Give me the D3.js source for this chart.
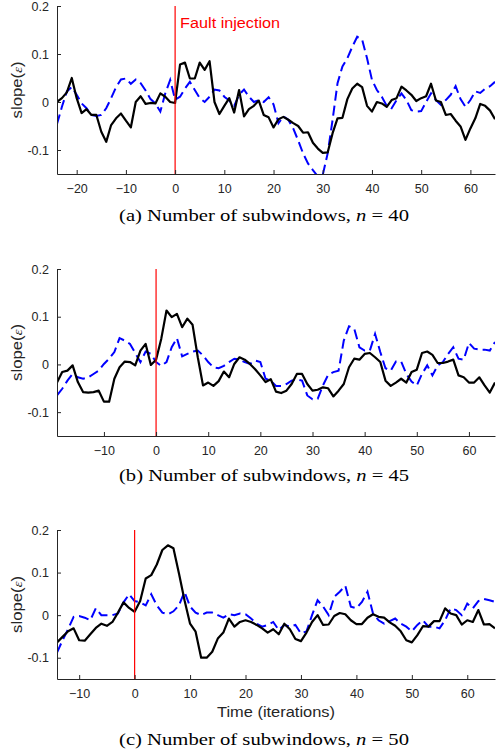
<!DOCTYPE html>
<html>
<head>
<meta charset="utf-8">
<script src="https://cdn.jsdelivr.net/npm/d3@7"></script>
<style>
  body { margin: 0; background: #fff; }
  svg { display: block; }
  .tick text { font-family: "Liberation Sans", Arial, sans-serif; font-size: 12.5px; fill: #262626; }
  .axis path, .axis line { stroke: #262626; stroke-width: 1; }
</style>
</head>
<body>
<div id="chart"></div>
<script>
// time steps of each panel
var stepsA = d3.range(-24, 66);
var stepsB = d3.range(-19, 66);
var stepsC = d3.range(-14, 66);

// (a) n = 40
var blackA = [0.0, 0.008, 0.02, 0.05, 0.008, -0.023, -0.015, -0.027, -0.027, -0.062, -0.083, -0.048, -0.034, -0.024, -0.039, -0.053, 0.0, 0.012, -0.004, -0.002, -0.003, 0.018, 0.011, 0.0, -0.002,
  0.078, 0.082, 0.049, 0.049, 0.082, 0.067, 0.085, 0.0, -0.025, -0.008, 0.008, -0.022, 0.025, -0.03, -0.015, -0.008, 0.003, -0.027, -0.032, -0.053, -0.036,
  -0.031, -0.037, -0.044, -0.05, -0.064, -0.063, -0.085, -0.097, -0.106, -0.105, -0.065, -0.034, -0.033, 0.006, 0.028, 0.038, 0.031, -0.008, -0.02, 0.0,
  -0.003, -0.01, 0.004, 0.008, 0.032, 0.024, 0.015, 0.002, 0.008, 0.012, 0.038, 0.003, 0.0, -0.027, -0.025, -0.039, -0.051, -0.079, -0.055, -0.034, -0.004, -0.008, -0.018, -0.036];
var blueA = [-0.046, -0.01, 0.022, 0.031, 0.015, -0.003, -0.013, -0.027, -0.029, -0.027, -0.013, 0.008, 0.031, 0.047, 0.049, 0.038, 0.047, 0.039, 0.024, 0.006, -0.003, -0.02, 0.018, 0.046, 0.005,
  0.011, 0.028, 0.042, 0.025, 0.008, 0.0, 0.011, 0.026, 0.024, 0.011, 0.003, -0.008, 0.015, 0.026, 0.011, 0.0, 0.004,
  0.0, 0.01, -0.005, -0.044, -0.03, -0.037, -0.055, -0.08, -0.107, -0.128, -0.142, -0.155, -0.152, -0.107, -0.037, 0.039, 0.074, 0.091, 0.115, 0.136,
  0.13, 0.091, 0.046, 0.025, 0.011, -0.008, -0.013, 0.004, 0.018, 0.004, -0.017, -0.02, -0.019, 0.0, 0.018, 0.004, -0.006, 0.004, 0.015, 0.033,
  0.006, -0.01, 0.004, 0.022, 0.019, 0.028, 0.033, 0.042];

// (b) n = 45
var blackB = [-0.038, -0.016, -0.013, -0.002, -0.037, -0.058, -0.059, -0.058, -0.055, -0.078, -0.078, -0.03, -0.006, 0.006, 0.005, -0.002, 0.029, 0.043, -0.001, 0.01,
  0.054, 0.113, 0.099, 0.106, 0.078, 0.096, 0.083, 0.015, -0.044, -0.038, -0.045, -0.035, -0.015, -0.027, 0.001, 0.015, 0.01, 0.001, -0.01, -0.023, -0.037,
  -0.031, -0.057, -0.06, -0.055, -0.041, -0.02, -0.02, -0.041, -0.055, -0.053, -0.048, -0.05, -0.067, -0.055, -0.041, -0.006, 0.012, 0.01, 0.022, 0.024,
  0.015, 0.005, -0.034, -0.045, -0.038, -0.03, -0.038, -0.016, -0.011, 0.024, 0.027, 0.02, 0.003, 0.003, 0.006, 0.01, -0.023, -0.027, -0.038, -0.038,
  -0.027, -0.044, -0.059, -0.038];
var blueB = [-0.065, -0.051, -0.034, -0.02, -0.027, -0.03, -0.027, -0.02, -0.013, 0.001, 0.012, 0.026, 0.055, 0.05, 0.043, 0.024, 0.005, 0.027, 0.022, 0.005,
  -0.003, 0.005, 0.036, 0.055, 0.017, 0.022, 0.027, 0.029, 0.019, 0.005, -0.006, -0.008, -0.003, 0.005, 0.012, 0.01, 0.005, 0.001, 0.008, 0.005, -0.03,
  -0.034, -0.045, -0.045, -0.041, -0.034, -0.031, -0.034, -0.065, -0.073, -0.072, -0.044, -0.022, -0.016, -0.013, 0.05, 0.08, 0.075, 0.036, 0.029, 0.029,
  0.064, 0.026, -0.008, -0.013, 0.006, 0.006, -0.02, -0.036, -0.044, -0.02, -0.002, -0.023, -0.002, 0.005, 0.022, 0.036, 0.012, 0.01, 0.045, 0.033,
  0.031, 0.031, 0.029, 0.047];

// (c) n = 50
var blackC = [-0.064, -0.051, -0.038, -0.031, -0.059, -0.06, -0.045, -0.03, -0.02, -0.025, -0.016, 0.006, 0.03, 0.017, 0.008,
  0.033, 0.086, 0.094, 0.119, 0.153, 0.164, 0.157, 0.098, 0.035, -0.02, -0.039, -0.1, -0.1, -0.086, -0.055, -0.041, -0.008, -0.027, -0.016, -0.012, -0.016, -0.023, -0.031, -0.041,
  -0.033, -0.045, -0.02, -0.033, -0.056, -0.061, -0.041, -0.016, 0.0, -0.023, -0.022, -0.002, 0.005, 0.002, -0.012, -0.021, -0.021, -0.006, 0.002, -0.004,
  -0.006, -0.017, -0.025, -0.038, -0.059, -0.064, -0.047, -0.026, -0.027, -0.014, -0.014, 0.016, 0.004, 0.0, -0.022, -0.012, -0.016, 0.012, -0.022, -0.021, -0.031];
var blueC = [-0.088, -0.059, -0.033, -0.004, -0.002, -0.006, -0.012, 0.016, 0.0, 0.0, 0.0, 0.004, 0.03, 0.049, 0.033,
  0.03, 0.023, 0.049, 0.023, 0.006, 0.002, 0.009, 0.023, 0.055, 0.02, 0.006, 0.0, 0.006, 0.006, 0.0, -0.006, 0.002, 0.0, 0.004, 0.002, -0.008, -0.02, -0.027, -0.023,
  -0.016, -0.035, -0.023, -0.027, -0.023, -0.043, -0.038, 0.0, 0.035, 0.02, 0.0, 0.043, 0.055, 0.069, 0.02, 0.016, 0.031, 0.055, 0.004, -0.012,
  -0.02, -0.014, -0.008, -0.02, -0.027, -0.038, -0.023, -0.012, -0.027, -0.027, -0.031, -0.012, 0.016, 0.012, 0.0, 0.027, 0.016, 0.033, 0.038, 0.035, 0.031];

var yTicks = [-0.1, 0, 0.1, 0.2];
var xTicks = [-20, -10, 0, 10, 20, 30, 40, 50, 60];
var captionLetters = ['(a)', '(b)', '(c)'];
var nValues = [40, 45, 50];
var faultAt = 0;

var W = 496, H = 754;
var left = 57, right = 495;

var panels = [
  {steps: stepsA, black: blackA, blue: blueA, top: 6, bottom: 174, cap: 221},
  {steps: stepsB, black: blackB, blue: blueB, top: 269, bottom: 436, cap: 481},
  {steps: stepsC, black: blackC, blue: blueC, top: 530, bottom: 679, cap: 745}
];

var svg = d3.select('#chart').append('svg')
  .attr('width', W)
  .attr('height', H);

panels.forEach(function(p, i) {
  var x = d3.scaleLinear()
    .domain([p.steps[0], p.steps[p.steps.length - 1]])
    .range([left, right]);
  var y = d3.scaleLinear()
    .domain([-0.15, 0.2])
    .range([p.bottom, p.top]);

  var g = svg.append('g');

  g.append('clipPath').attr('id', 'clip' + i)
    .append('rect')
      .attr('x', left).attr('y', p.top)
      .attr('width', right - left).attr('height', p.bottom - p.top);

  var line = d3.line()
    .x(function(d) { return x(d[0]); })
    .y(function(d) { return y(d[1]); });

  var plot = g.append('g').attr('clip-path', 'url(#clip' + i + ')');

  plot.append('path')
    .attr('d', line(d3.zip(p.steps, p.blue)))
    .attr('fill', 'none')
    .attr('stroke', '#0000ff')
    .attr('stroke-width', 2)
    .attr('stroke-dasharray', '10,5');

  plot.append('path')
    .attr('d', line(d3.zip(p.steps, p.black)))
    .attr('fill', 'none')
    .attr('stroke', '#000')
    .attr('stroke-width', 2.2)
    .attr('stroke-linejoin', 'round');

  g.append('line')
    .attr('x1', x(faultAt)).attr('x2', x(faultAt))
    .attr('y1', y(0.2)).attr('y2', y(-0.15))
    .attr('stroke', '#ff0000')
    .attr('stroke-width', 1.2);

  var xt = xTicks.filter(function(t) { return t >= x.domain()[0] && t <= x.domain()[1]; });

  g.append('g')
    .attr('class', 'axis')
    .attr('transform', 'translate(0,' + p.bottom + ')')
    .call(d3.axisBottom(x).tickValues(xt).tickSizeInner(-4).tickSizeOuter(0).tickPadding(10)
      .tickFormat(function(d) { return String(d).replace('-', '\u2212'); }));

  g.append('g')
    .attr('class', 'axis')
    .attr('transform', 'translate(' + left + ',0)')
    .call(d3.axisLeft(y).tickValues(yTicks).tickSizeInner(-4).tickSizeOuter(0).tickPadding(8)
      .tickFormat(function(d) { return d3.format('')(d).replace('\u2212', '-'); }));

  g.selectAll('.axis .domain').attr('stroke', '#262626');

  var yl = g.append('text')
    .attr('transform', 'translate(22,' + ((p.top + p.bottom) / 2) + ') rotate(-90)')
    .attr('text-anchor', 'middle')
    .attr('textLength', 57)
    .attr('lengthAdjust', 'spacingAndGlyphs')
    .style('font-family', '"Liberation Sans", Arial, sans-serif')
    .style('font-size', '15px')
    .attr('fill', '#262626');
  yl.append('tspan').text('slope(');
  yl.append('tspan').text('\u03b5').style('font-family', '"Liberation Serif", serif').style('font-style', 'italic').style('font-size', '13px');
  yl.append('tspan').text(')');

  var cap = g.append('text')
    .attr('x', 264).attr('y', p.cap)
    .attr('text-anchor', 'middle')
    .attr('textLength', 290)
    .attr('lengthAdjust', 'spacingAndGlyphs')
    .style('font-family', '"Liberation Serif", "Times New Roman", serif')
    .style('font-size', '17.5px')
    .attr('fill', '#000');
  cap.append('tspan').text(captionLetters[i] + ' Number of subwindows, ');
  cap.append('tspan').text('n').style('font-style', 'italic');
  cap.append('tspan').text(' = ' + nValues[i]);

  if (i === 0) {
    g.append('text')
      .attr('x', x(faultAt) + 5).attr('y', 28)
      .attr('textLength', 100)
      .attr('lengthAdjust', 'spacingAndGlyphs')
      .style('font-family', '"Liberation Sans", Arial, sans-serif')
      .style('font-size', '15.5px')
      .attr('fill', '#ff0000')
      .text('Fault injection');
  }
  if (i === 2) {
    g.append('text')
      .attr('x', (left + right) / 2).attr('y', 717)
      .attr('text-anchor', 'middle')
      .attr('textLength', 118)
      .attr('lengthAdjust', 'spacingAndGlyphs')
      .style('font-family', '"Liberation Sans", Arial, sans-serif')
      .style('font-size', '15px')
      .attr('fill', '#262626')
      .text('Time (iterations)');
  }
});
</script>
</body>
</html>
